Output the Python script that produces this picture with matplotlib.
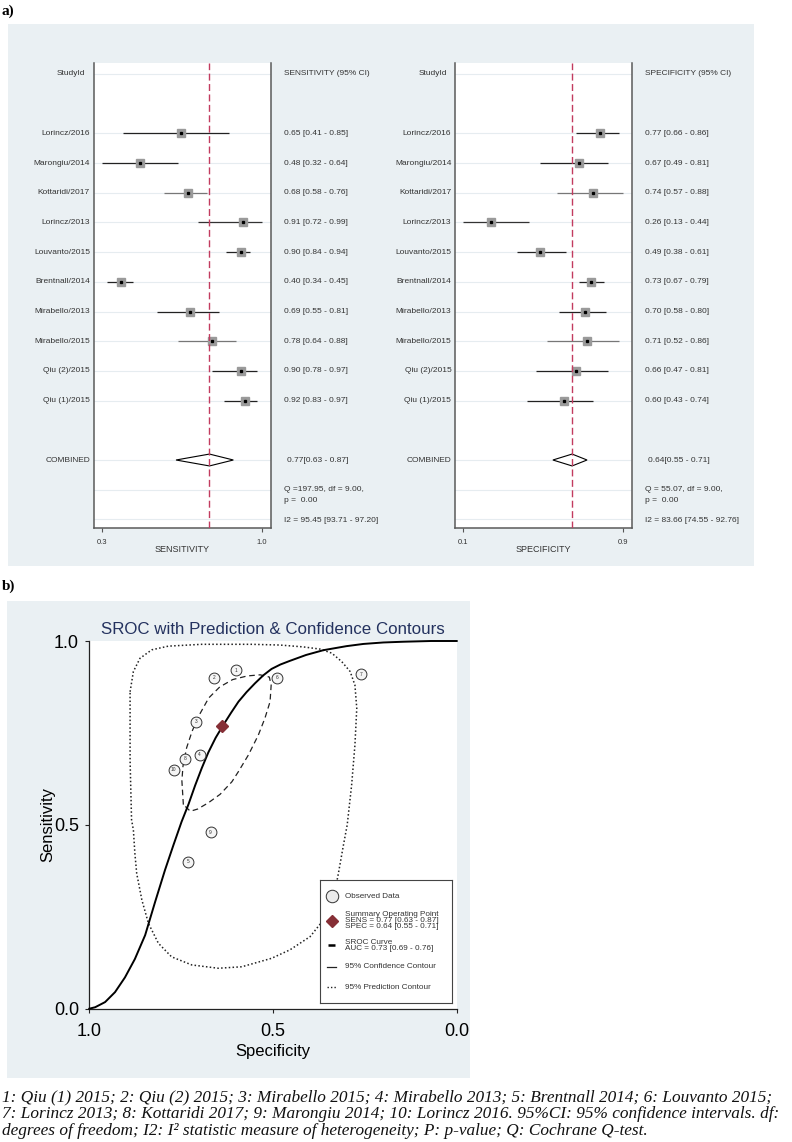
import matplotlib
matplotlib.use("Agg")
import numpy as np
from matplotlib import pyplot as plt
from matplotlib import transforms
from matplotlib.patches import Rectangle, Polygon

plt.rcParams["font.family"] = ["Liberation Sans", "DejaVu Sans"]

W, H = 792, 1142
BG = "#EAF0F3"

#   Study level estimates (same order as the forest plots)
studies = ["Lorincz/2016", "Marongiu/2014", "Kottaridi/2017", "Lorincz/2013", "Louvanto/2015",
           "Brentnall/2014", "Mirabello/2013", "Mirabello/2015", "Qiu (2)/2015", "Qiu (1)/2015"]
sens = [0.65, 0.48, 0.68, 0.91, 0.90, 0.40, 0.69, 0.78, 0.90, 0.92]
sens_lo = [0.41, 0.32, 0.58, 0.72, 0.84, 0.34, 0.55, 0.64, 0.78, 0.83]
sens_hi = [0.85, 0.64, 0.76, 0.99, 0.94, 0.45, 0.81, 0.88, 0.97, 0.97]
spec = [0.77, 0.67, 0.74, 0.26, 0.49, 0.73, 0.70, 0.71, 0.66, 0.60]
spec_lo = [0.66, 0.49, 0.57, 0.13, 0.38, 0.67, 0.58, 0.52, 0.47, 0.43]
spec_hi = [0.86, 0.81, 0.88, 0.44, 0.61, 0.79, 0.80, 0.86, 0.81, 0.74]
ci_colors = ["#222222", "#222222", "#777777", "#333333", "#222222",
             "#222222", "#222222", "#777777", "#222222", "#222222"]

sens_comb = (0.77, 0.63, 0.87)
spec_comb = (0.64, 0.55, 0.71)
sens_stats = ["Q =197.95, df = 9.00,", "p =  0.00", "I2 = 95.45 [93.71 - 97.20]"]
spec_stats = ["Q = 55.07, df = 9.00,", "p =  0.00", "I2 = 83.66 [74.55 - 92.76]"]

#   SROC curve and contours (specificity, sensitivity)
sroc_spec = [1.0, 0.984, 0.957, 0.93, 0.903, 0.876, 0.848, 0.821, 0.794, 0.771, 0.749,
             0.730, 0.712, 0.694, 0.676, 0.656, 0.635, 0.614, 0.594, 0.572, 0.549, 0.526,
             0.504, 0.48, 0.454, 0.41, 0.363, 0.30, 0.254, 0.2, 0.145, 0.07, 0.0]
sroc_sens = [0.0, 0.004, 0.018, 0.045, 0.085, 0.135, 0.200, 0.290, 0.377, 0.445, 0.508,
             0.556, 0.607, 0.654, 0.697, 0.737, 0.772, 0.805, 0.835, 0.861, 0.885, 0.907,
             0.924, 0.936, 0.946, 0.962, 0.975, 0.986, 0.992, 0.996, 0.998, 1.0, 1.0]

conf_spec = [0.744, 0.748, 0.745, 0.735, 0.72, 0.70, 0.675, 0.645, 0.61, 0.57, 0.535, 0.51,
             0.505, 0.508, 0.522, 0.54, 0.567, 0.594, 0.612, 0.644, 0.676, 0.705, 0.725, 0.744]
conf_sens = [0.555, 0.62, 0.66, 0.71, 0.755, 0.80, 0.845, 0.875, 0.895, 0.905, 0.908, 0.902,
             0.88, 0.835, 0.79, 0.744, 0.69, 0.645, 0.617, 0.583, 0.56, 0.543, 0.537, 0.555]

pred_spec = [0.889, 0.880, 0.862, 0.830, 0.785, 0.694, 0.558, 0.481, 0.418, 0.372, 0.340,
             0.313, 0.290, 0.277, 0.272, 0.277, 0.286, 0.298, 0.309, 0.322, 0.336, 0.363,
             0.399, 0.454, 0.504, 0.585, 0.649, 0.721, 0.776, 0.812, 0.839, 0.857, 0.871,
             0.876, 0.880, 0.885, 0.889, 0.889]
pred_sens = [0.862, 0.917, 0.953, 0.976, 0.986, 0.991, 0.991, 0.989, 0.984, 0.978, 0.967,
             0.944, 0.917, 0.880, 0.817, 0.717, 0.608, 0.500, 0.441, 0.368, 0.296, 0.241,
             0.196, 0.160, 0.137, 0.114, 0.110, 0.119, 0.141, 0.178, 0.232, 0.296, 0.368,
             0.423, 0.486, 0.514, 0.676, 0.862]

caption = [
    "1: Qiu (1) 2015; 2: Qiu (2) 2015; 3: Mirabello 2015; 4: Mirabello 2013; 5: Brentnall 2014; 6: Louvanto 2015;",
    "7: Lorincz 2013; 8: Kottaridi 2017; 9: Marongiu 2014; 10: Lorincz 2016. 95%CI: 95% confidence intervals. df:",
    "degrees of freedom; I2: I\u00b2 statistic measure of heterogeneity; P: p-value; Q: Cochrane Q-test.",
]


def box(x0, y0, x1, y1):
    """pixel box (top-left origin) -> figure rect"""
    return [x0 / W, 1 - y1 / H, (x1 - x0) / W, (y1 - y0) / H]


def forest(fig, px0, px1, est, lo, hi, comb, heading, xlabel, stats):
    ax = fig.add_axes(box(px0, 63, px1, 528))
    n = len(est)
    rows = np.arange(2, 2 + n)
    crow = n + 3
    width = px1 - px0

    for r in [0, *rows, crow, crow + 1, crow + 2]:
        ax.axhline(r, color="#E6ECF0", lw=0.8, zorder=0)

    for i in range(n):
        ax.plot([lo[i], hi[i]], [rows[i], rows[i]], color=ci_colors[i], lw=0.9, zorder=2,
                solid_capstyle="butt")
    ax.plot(est, rows, "s", ms=5.8, color="#9A9A9A", zorder=3)
    ax.plot(est, rows, "s", ms=1.4, color="black", zorder=4)

    c, cl, ch = comb
    ax.add_patch(Polygon([[cl, crow], [c, crow - 0.2], [ch, crow], [c, crow + 0.2]],
                         closed=True, facecolor="white", edgecolor="black", lw=0.8, zorder=3))
    ax.axvline(c, color="#C23B5F", lw=1.0, ls=(0, (5, 2.5)), zorder=5)

    t0, t1 = min(lo), max(hi)
    pad = 8.5 / 160 * (t1 - t0)
    ax.set_xlim(t0 - pad, t1 + pad)
    ax.set_ylim(crow + 2.29, -0.37)
    ax.set_xticks([t0, t1], [f"{t0:.1f}", f"{t1:.1f}"])
    ax.set_yticks([])
    ax.tick_params(axis="x", direction="out", length=3, width=0.8, color="#555555",
                   labelsize=5.5, pad=5, labelcolor="#333333")
    ax.spines["top"].set_visible(False)
    for s in ["left", "right", "bottom"]:
        ax.spines[s].set_color("#5A5A5A")
        ax.spines[s].set_linewidth(1.1)
    ax.set_xlabel(xlabel, fontsize=6.5, color="#333333", va="top")
    ax.xaxis.set_label_coords(0.5, -0.036)

    tr = transforms.blended_transform_factory(ax.transAxes, ax.transData)
    kw = dict(transform=tr, fontsize=6, color="#333333", va="center")
    ax.text(-8 / width, 0, "StudyId", ha="right", **kw)
    ax.text(1.075, 0, heading, ha="left", **kw)
    for i in range(n):
        ax.text(-3.5 / width, rows[i], studies[i], ha="right", **kw)
        ax.text(1.075, rows[i], f"{est[i]:.2f} [{lo[i]:.2f} - {hi[i]:.2f}]", ha="left", **kw)
    ax.text(-3.5 / width, crow, "COMBINED", ha="right", **kw)
    ax.text(1.075 + 3 / width, crow, f"{c:.2f}[{cl:.2f} - {ch:.2f}]", ha="left", **kw)
    ax.text(1.075, crow + 1, stats[0], ha="left", **kw)
    ax.text(1.075, crow + 1.37, stats[1], ha="left", **kw)
    ax.text(1.075, crow + 2.03, stats[2], ha="left", **kw)
    return ax


fig = plt.figure(figsize=(W / 100, H / 100), dpi=100)

#   Panel backgrounds
fig.add_artist(Rectangle((8 / W, 1 - 566 / H), 746 / W, 542 / H, transform=fig.transFigure,
                         facecolor=BG, edgecolor="none", zorder=-1))
fig.add_artist(Rectangle((7 / W, 1 - 1078 / H), 463 / W, 477 / H, transform=fig.transFigure,
                         facecolor=BG, edgecolor="none", zorder=-1))

fig.text(2 / W, 1 - 11 / H, "a)", fontfamily="Liberation Serif", fontweight="bold",
         fontsize=11, va="center")
fig.text(2 / W, 1 - 586 / H, "b)", fontfamily="Liberation Serif", fontweight="bold",
         fontsize=11, va="center")

#   a) Forest plots
forest(fig, 93.5, 270.5, sens, sens_lo, sens_hi, sens_comb, "SENSITIVITY (95% CI)",
       "SENSITIVITY", sens_stats)
forest(fig, 454.8, 631.8, spec, spec_lo, spec_hi, spec_comb, "SPECIFICITY (95% CI)",
       "SPECIFICITY", spec_stats)

#   b) SROC plot
ax = fig.add_axes(box(89.3, 641, 456.7, 1008.7))
ax.set_facecolor("white")
ax.plot(pred_spec, pred_sens, color="#222222", lw=1.1, ls=(0, (1, 1.5)), zorder=2)
ax.plot(conf_spec, conf_sens, color="#222222", lw=0.9, ls=(0, (4.5, 3)), zorder=2)
ax.plot(sroc_spec, sroc_sens, color="black", lw=1.4, zorder=3, clip_on=False)
ax.plot(spec, sens, "o", ms=7.8, mfc="#F5F5F5", mec="#333333", mew=0.7, zorder=4)
for i in range(len(spec)):
    ax.text(spec[i], sens[i], str(len(spec) - i), fontsize=3.5, ha="center", va="center",
            color="#333333", zorder=5)
ax.plot(spec_comb[0], sens_comb[0], "D", ms=6.3, color="#862F36", zorder=6)

ax.set_xlim(1, 0)
ax.set_ylim(0, 1)
ax.set_xticks([1.0, 0.5, 0.0], ["1.0", "0.5", "0.0"])
ax.set_yticks([0.0, 0.5, 1.0], ["0.0", "0.5", "1.0"])
ax.tick_params(direction="out", length=3, width=0.8, labelsize=13, color="#222222")
ax.tick_params(axis="x", pad=7)
ax.tick_params(axis="y", pad=4.5)
ax.spines["top"].set_visible(False)
ax.spines["right"].set_visible(False)
for s in ["left", "bottom"]:
    ax.spines[s].set_color("#222222")
    ax.spines[s].set_linewidth(0.9)
ax.set_xlabel("Specificity", fontsize=12)
ax.xaxis.set_label_coords(0.5, -0.097)
ax.set_ylabel("Sensitivity", fontsize=12)
ax.yaxis.set_label_coords(-0.092, 0.5)
ax.set_title("SROC with Prediction & Confidence Contours", fontsize=12.2, color="#24325F",
             pad=5)

#   Legend drawn in its own box (pixel coordinates)
lax = fig.add_axes(box(320, 880, 451.7, 1002.7))
lax.set_xlim(320, 451.7)
lax.set_ylim(1002.7, 880)
lax.set_xticks([])
lax.set_yticks([])
lax.set_facecolor("white")
for s in lax.spines.values():
    s.set_color("#444444")
    s.set_linewidth(0.8)
lkw = dict(fontsize=5.9, color="#333333", va="center", ha="left")
lax.plot([331.7], [896], "o", ms=9, mfc="#EBEBEB", mec="#333333", mew=0.7)
lax.text(345, 896, "Observed Data", **lkw)
lax.plot([331.7], [920.5], "D", ms=6.3, color="#862F36")
lax.text(345, 914.3, "Summary Operating Point", **lkw)
lax.text(345, 920.2, f"SENS = {sens_comb[0]:.2f} [{sens_comb[1]:.2f} - {sens_comb[2]:.2f}]", **lkw)
lax.text(345, 926.0, f"SPEC = {spec_comb[0]:.2f} [{spec_comb[1]:.2f} - {spec_comb[2]:.2f}]", **lkw)
lax.plot([328, 335], [945, 945], color="black", lw=1.8, solid_capstyle="butt")
lax.text(345, 942, "SROC Curve", **lkw)
lax.text(345, 948, "AUC = 0.73 [0.69 - 0.76]", **lkw)
lax.plot([327, 336], [966.7, 966.7], color="#222222", lw=0.9)
lax.text(345, 966.7, "95% Confidence Contour", **lkw)
lax.plot([327, 336], [987.3, 987.3], color="#222222", lw=1.0, ls=(0, (1, 1.5)))
lax.text(345, 987.3, "95% Prediction Contour", **lkw)

#   Caption
for k, line in enumerate(caption):
    fig.text(2 / W, 1 - (1097 + 17 * k) / H, line, fontfamily="Liberation Serif",
             style="italic", fontsize=12.45, va="center", color="#111111")

fig.savefig("out.png", dpi=100)
